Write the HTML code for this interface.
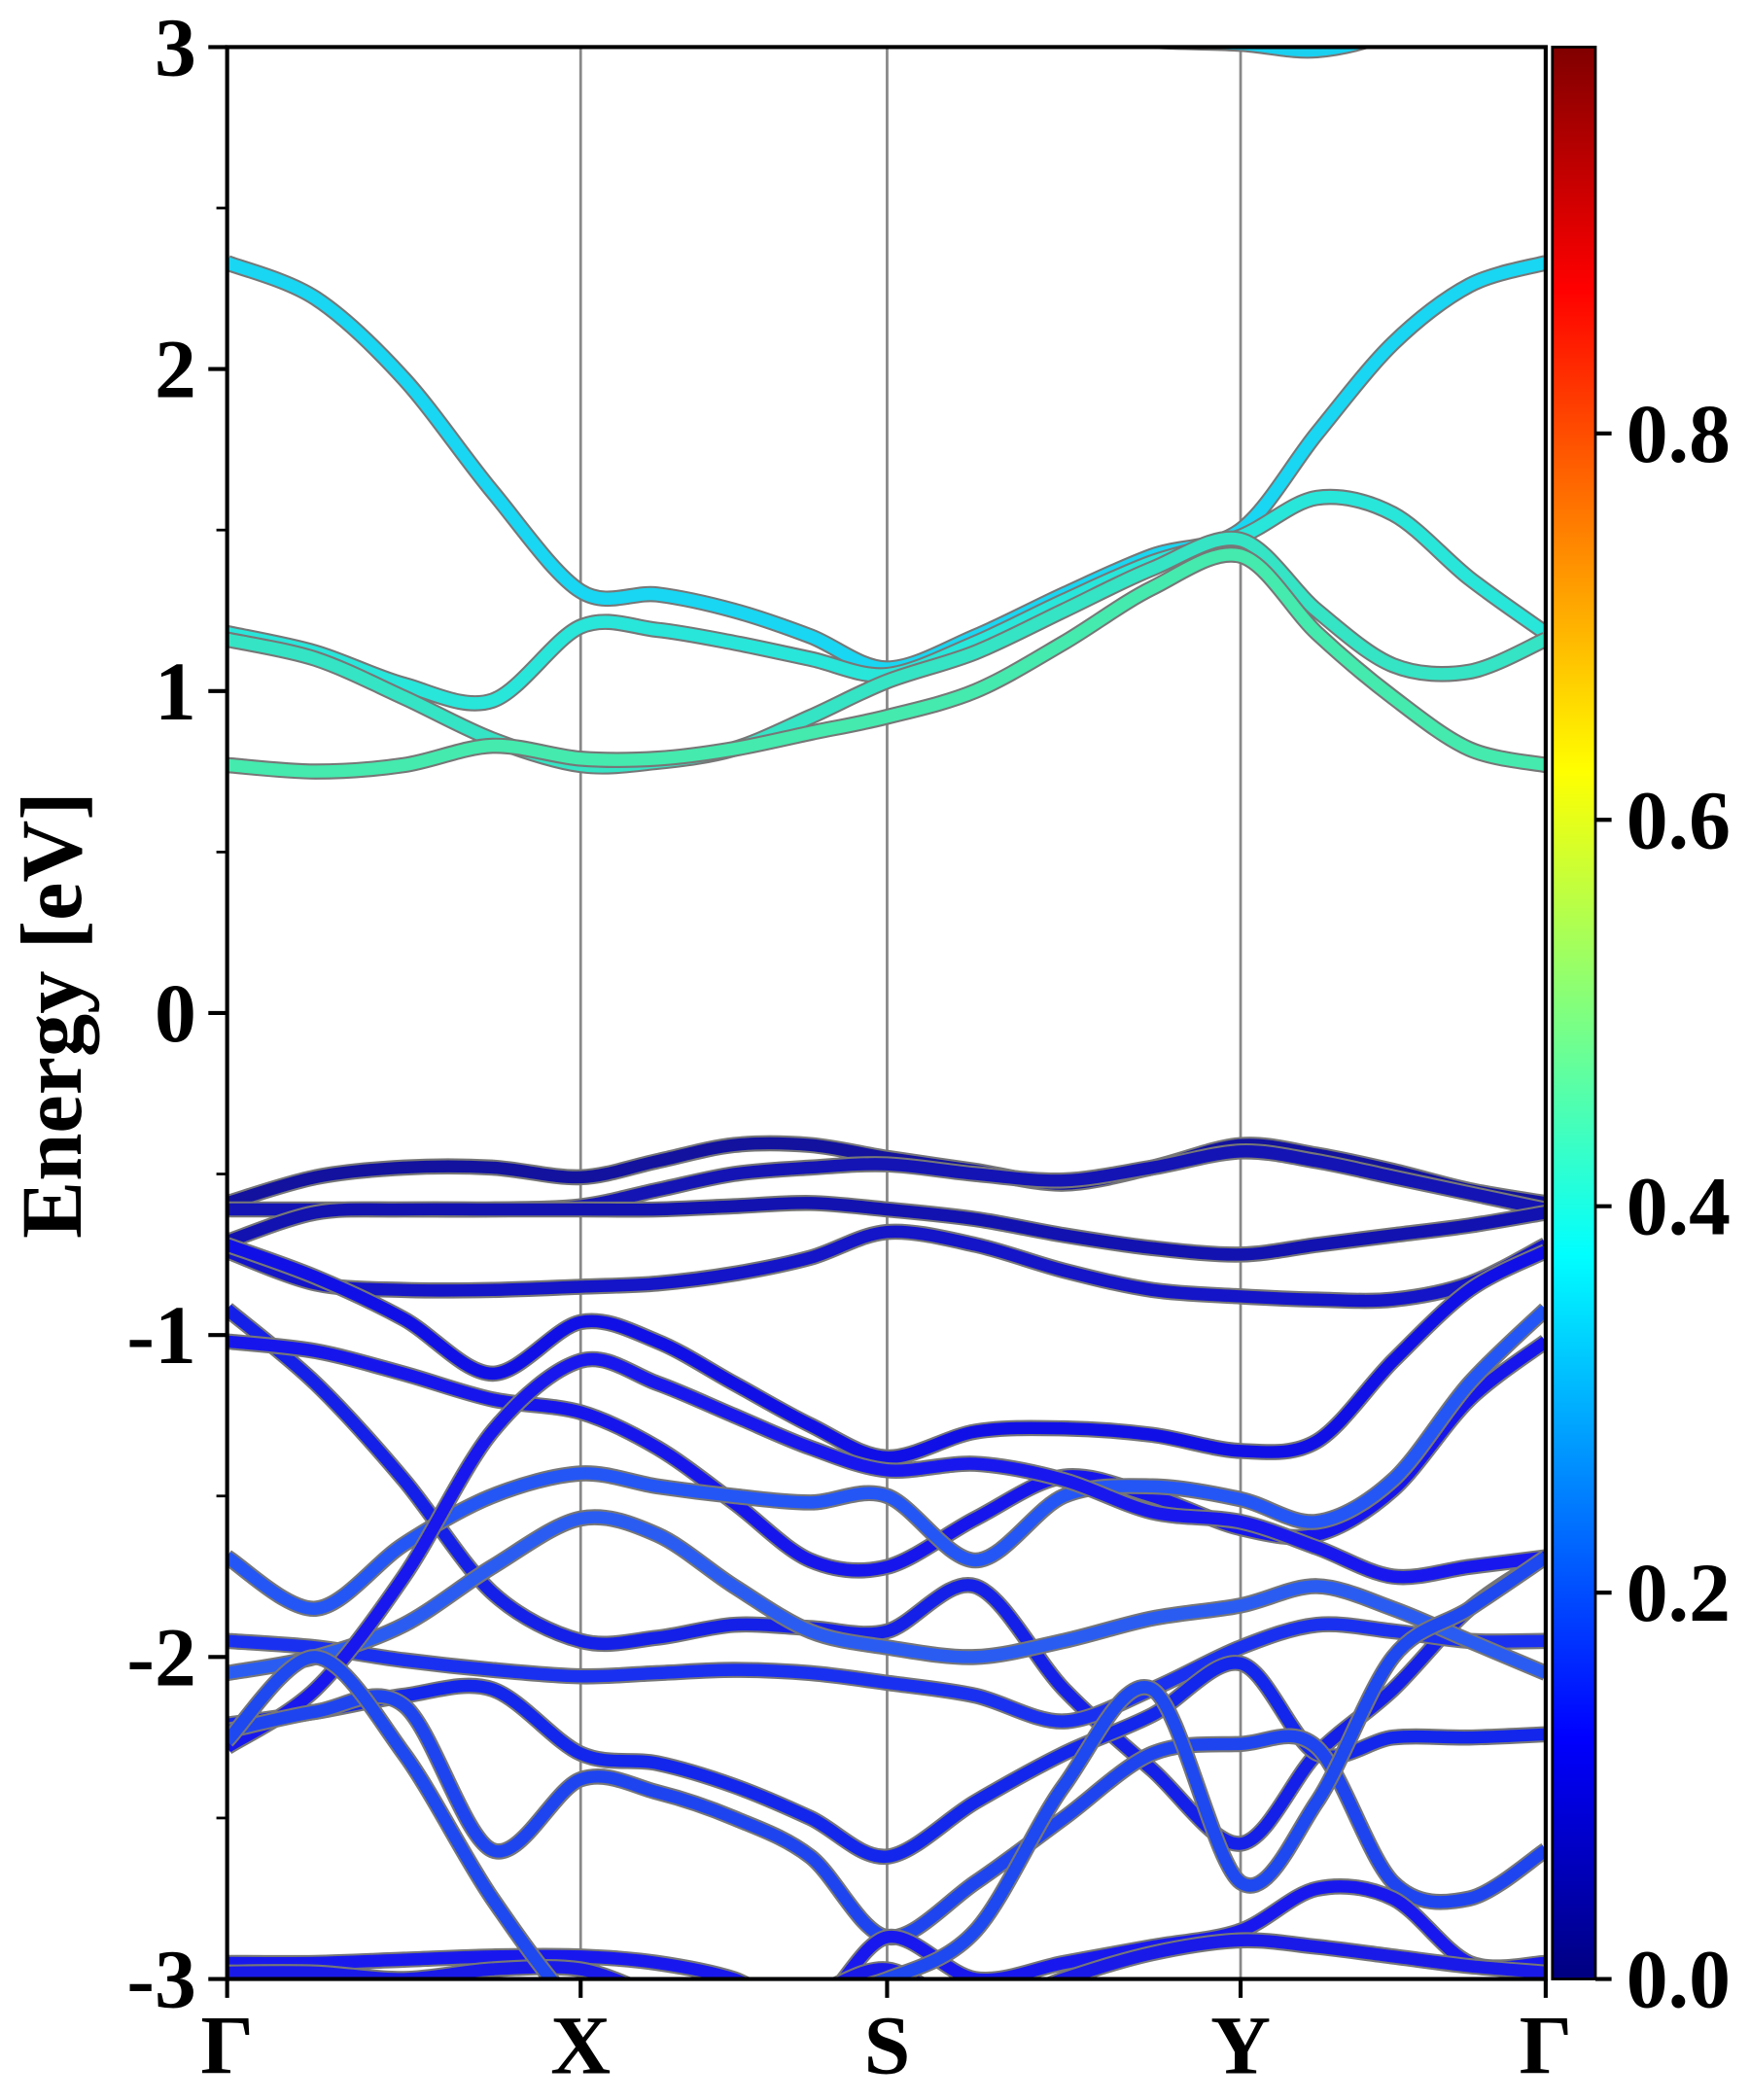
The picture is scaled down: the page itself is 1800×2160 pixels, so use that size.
<!DOCTYPE html>
<html><head><meta charset="utf-8"><style>
html,body{margin:0;padding:0;background:#fff;}
svg{display:block;}
text{font-family:"Liberation Serif",serif;font-weight:bold;fill:#000;}
</style></head><body>
<svg id="chart" width="1800" height="2160" viewBox="0 0 1302 1562" preserveAspectRatio="none" xmlns="http://www.w3.org/2000/svg">
<defs>
<linearGradient id="jet" x1="0" y1="1" x2="0" y2="0">
<stop offset="0" stop-color="#000080"/><stop offset="0.125" stop-color="#0000ff"/>
<stop offset="0.375" stop-color="#00ffff"/><stop offset="0.625" stop-color="#ffff00"/>
<stop offset="0.875" stop-color="#ff0000"/><stop offset="1" stop-color="#800000"/>
</linearGradient>
<clipPath id="plotclip"><rect x="169" y="35" width="981" height="1437"/></clipPath>
</defs>
<g id="vlines"></g>
<g id="bands" clip-path="url(#plotclip)"></g>
<rect x="169" y="35" width="981" height="1437" fill="none" stroke="#000" stroke-width="3"/>
<g id="yaxis"></g>
<g id="xaxis"></g>
<text transform="translate(60,755) rotate(-90)" text-anchor="middle" font-size="64">Energy [eV]</text>
<rect x="1155" y="35" width="32" height="1437" fill="url(#jet)" stroke="#000" stroke-width="2"/>
<g id="cbaxis"></g>
</svg>
<script>
const kLabels = ["Γ","X","S","Y","Γ"];
const yTicks = [3,2,1,0,-1,-2,-3];
const cbTicks = [0.0,0.2,0.4,0.6,0.8];
// energies at 17 k-points (4 per segment)
const c1 = [2.33,2.22,1.97,1.62,1.31, 1.30,1.25,1.17,1.07, 1.17,1.30,1.42,1.50, 1.80,2.08,2.26,2.33];
const c2 = [1.18,1.12,1.02,0.97,1.20, 1.19,1.15,1.10,1.05, 1.15,1.28,1.40,1.48, 1.60,1.55,1.35,1.18];
const c3 = [1.16,1.10,0.98,0.85,0.77, 0.78,0.82,0.92,1.03, 1.12,1.25,1.38,1.47, 1.25,1.08,1.06,1.16];
const c4 = [0.77,0.75,0.77,0.83,0.79, 0.79,0.82,0.87,0.92, 1.00,1.15,1.32,1.42, 1.18,0.98,0.82,0.77];
const c5 = [3.4,3.4,3.4,3.4,3.4, 3.4,3.4,3.3,3.2, 3.1,3.05,3.02,3.01, 2.99,3.05,3.2,3.4];
const v1 = [-0.59,-0.51,-0.48,-0.48,-0.51, -0.46,-0.41,-0.41,-0.45, -0.49,-0.53,-0.48,-0.41, -0.44,-0.49,-0.55,-0.59];
const v2 = [-0.61,-0.61,-0.61,-0.61,-0.60, -0.55,-0.50,-0.48,-0.47, -0.50,-0.52,-0.48,-0.43, -0.46,-0.51,-0.56,-0.61];
const v3 = [-0.71,-0.62,-0.61,-0.61,-0.61, -0.61,-0.60,-0.59,-0.61, -0.64,-0.69,-0.73,-0.75, -0.72,-0.69,-0.66,-0.62];
const v4 = [-0.74,-0.84,-0.86,-0.86,-0.85, -0.84,-0.81,-0.76,-0.68, -0.72,-0.80,-0.86,-0.88, -0.89,-0.89,-0.84,-0.72];
const v5 = [-0.72,-0.82,-0.95,-1.12,-0.96, -1.02,-1.15,-1.28,-1.38, -1.30,-1.29,-1.31,-1.36, -1.33,-1.08,-0.86,-0.74];
const v6 = [-0.92,-1.15,-1.45,-1.80,-1.95, -1.94,-1.90,-1.91,-1.92, -1.78,-2.10,-2.35,-2.58, -2.30,-2.10,-1.85,-1.69];
const v7 = [-1.02,-1.05,-1.12,-1.20,-1.24, -1.35,-1.52,-1.70,-1.72, -1.57,-1.44,-1.50,-1.60, -1.62,-1.48,-1.20,-1.02];
const v8 = [-1.69,-1.85,-1.65,-1.50,-1.43, -1.47,-1.50,-1.52,-1.50, -1.70,-1.50,-1.47,-1.51, -1.58,-1.45,-1.15,-0.92];
const v9 = [-1.95,-1.97,-2.01,-2.04,-2.06, -2.05,-2.04,-2.05,-2.08, -2.12,-2.20,-2.10,-1.97, -1.90,-1.92,-1.95,-1.95];
const v10 = [-2.05,-2.00,-1.90,-1.72,-1.57, -1.62,-1.78,-1.92,-1.97, -2.00,-1.95,-1.88,-1.84, -1.78,-1.85,-1.95,-2.05];
const v11 = [-2.21,-2.17,-2.12,-2.10,-2.30, -2.33,-2.40,-2.50,-2.62, -2.45,-2.30,-2.18,-2.02, -2.30,-2.25,-2.25,-2.24];
const v12 = [-2.28,-2.10,-1.75,-1.30,-1.08, -1.15,-1.25,-1.35,-1.42, -1.40,-1.45,-1.55,-1.58, -1.66,-1.75,-1.72,-1.69];
const v13 = [-2.23,-2.17,-2.15,-2.60,-2.38, -2.42,-2.50,-2.62,-2.87, -2.70,-2.50,-2.30,-2.27, -2.28,-2.70,-2.75,-2.60];
const v14 = [-2.95,-2.95,-2.94,-2.93,-2.93, -2.95,-3.00,-3.10,-2.87, -3.00,-2.95,-2.90,-2.85, -2.72,-2.75,-2.95,-2.95];
const v15 = [-2.98,-2.98,-3.00,-2.97,-2.97, -3.05,-3.10,-3.05,-2.97, -3.10,-3.00,-2.92,-2.88, -2.90,-2.93,-2.96,-2.98];
const v16 = [-2.26,-2.00,-2.30,-2.75,-3.10, -3.20,-3.10,-3.05,-3.00, -2.85,-2.40,-2.10,-2.70, -2.45,-2.00,-1.85,-1.69];
const bandColors = ["#19d6f2","#28e6da","#34e4c4","#44eaae","#19d0f0",
 "#12129e","#1414b4","#1212b0","#1414c8","#1010e6","#1420e8","#1616ec","#2456f5","#1a30f0","#2a5cf2","#1226ec","#1818ee","#1e44f0","#1818ee","#1a1ae8","#1e48f0"];
const bandList = [c1,c2,c3,c4,c5,v1,v2,v3,v4,v5,v6,v7,v8,v9,v10,v11,v12,v13,v14,v15,v16];

const kx = [169,432,660,923,1150];
const NS="http://www.w3.org/2000/svg";
function xScale(k){const i=Math.min(Math.floor(k),3);return kx[i]+(kx[i+1]-kx[i])*(k-i);}
function yScale(e){return 35+(3-e)*1437/6;}
function cbScale(v){return 1472-v*1437;}
function mk(tag,attrs,parent){const el=document.createElementNS(NS,tag);for(const a in attrs)el.setAttribute(a,attrs[a]);parent.appendChild(el);return el;}

const vl=document.getElementById('vlines');
[1,2,3].forEach(k=>{
  const l=mk('line',{x1:xScale(k),x2:xScale(k),y1:35,y2:1472,stroke:'#888',"stroke-width":2},vl);
  
  
});
const bg=document.getElementById('bands');
bandList.forEach((b,bi)=>{
  const pts=b.map((e,i)=>[xScale(i/4),yScale(e)]);
  let d='M'+pts[0][0]+','+pts[0][1];
  for(let i=0;i<pts.length-1;i++){
    const p0=pts[Math.max(i-1,0)],p1=pts[i],p2=pts[i+1],p3=pts[Math.min(i+2,pts.length-1)];
    const t=0.16;
    d+=' C'+(p1[0]+(p2[0]-p0[0])*t)+','+(p1[1]+(p2[1]-p0[1])*t)+' '+(p2[0]-(p3[0]-p1[0])*t)+','+(p2[1]-(p3[1]-p1[1])*t)+' '+p2[0]+','+p2[1];
  }
  const o=mk('path',{d:d,fill:'none',stroke:'#777',"stroke-width":12,"stroke-linejoin":'round'},bg);
  
  
  const p=mk('path',{d:d,fill:'none',stroke:bandColors[bi],"stroke-width":9,"stroke-linejoin":'round'},bg);
  
  
});
const ya=document.getElementById('yaxis');
yTicks.forEach(v=>{
  const y=yScale(v);
  const t=mk('line',{x1:155,x2:169,y1:y,y2:y,stroke:'#000',"stroke-width":3},ya);
  
  
  const tx=mk('text',{x:146,y:y+21,"text-anchor":'end',"font-size":62},ya);
  tx.textContent=String(v);
  
  
});
for(let v=-2.5;v<3;v+=1){
  const y=yScale(v);
  const t=mk('line',{x1:161,x2:169,y1:y,y2:y,stroke:'#000',"stroke-width":2},ya);
  
  
}
const xa=document.getElementById('xaxis');
kLabels.forEach((lab,i)=>{
  const x=xScale(i);
  const t=mk('line',{x1:x,x2:x,y1:1472,y2:1486,stroke:'#000',"stroke-width":3},xa);
  
  
  const tx=mk('text',{x:x,y:1542,"text-anchor":'middle',"font-size":62},xa);
  tx.textContent=lab;
  
  
});
const cb=document.getElementById('cbaxis');
cbTicks.forEach(v=>{
  const y=cbScale(v);
  const t=mk('line',{x1:1187,x2:1199,y1:y,y2:y,stroke:'#000',"stroke-width":3},cb);
  
  
  const tx=mk('text',{x:1210,y:y+21,"font-size":62},cb);
  tx.textContent=v.toFixed(1);
  
  
});
</script>
</body></html>
